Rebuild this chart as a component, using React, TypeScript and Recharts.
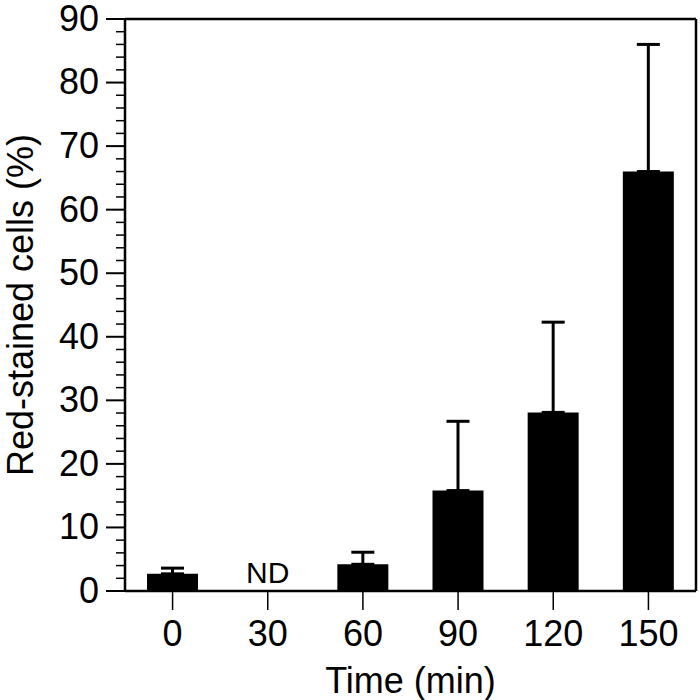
import { BarChart, Bar, XAxis, YAxis, ErrorBar, ReferenceDot } from "recharts";

// Time points (min) and % red-stained cells, upward error only
const times = ["0", "30", "60", "90", "120", "150"];
const redStained = [2.7, null, 4.2, 15.8, 28.1, 66.0];
const errorUp = [0.9, null, 1.9, 10.9, 14.2, 20.0];
const notDetected = ["30"];

const yLabels = [0, 10, 20, 30, 40, 50, 60, 70, 80, 90];
const minorStep = 2;

const font = '"Liberation Sans", Arial, Helvetica, sans-serif';

const data = times.map((t, i) => ({
  time: t,
  value: redStained[i],
  err: errorUp[i] == null ? null : [0, errorUp[i]],
}));

const yTicks: number[] = [];
yLabels.forEach((v, i) => {
  yTicks.push(v);
  const next = yLabels[i + 1];
  if (next != null) {
    for (let m = v + minorStep; m < next; m += minorStep) yTicks.push(m);
  }
});

function YTick({ x, y, payload }: any) {
  const major = yLabels.includes(payload.value);
  return (
    <g>
      <line
        x1={x - (major ? 19 : 9)}
        x2={x}
        y1={y}
        y2={y}
        stroke="#000"
        strokeWidth={major ? 2 : 1.5}
      />
      {major && (
        <text
          x={x - 26}
          y={y}
          dy="0.33em"
          textAnchor="end"
          fontSize={36}
          fontFamily={font}
          fill="#000"
        >
          {payload.value}
        </text>
      )}
    </g>
  );
}

function XTick({ x, y, payload }: any) {
  return (
    <text
      x={x}
      y={y + 36}
      textAnchor="middle"
      fontSize={36}
      fontFamily={font}
      fill="#000"
    >
      {payload.value}
    </text>
  );
}

function YTitle(props: any) {
  const vb = props.viewBox;
  const cx = vb.x + 33;
  const cy = vb.y + vb.height / 2;
  return (
    <text
      x={cx}
      y={cy}
      transform={`rotate(-90, ${cx}, ${cy})`}
      textAnchor="middle"
      fontSize={36}
      fontFamily={font}
      fill="#000"
    >
      Red-stained cells (%)
    </text>
  );
}

function XTitle(props: any) {
  const vb = props.viewBox;
  return (
    <text
      x={vb.x + vb.width / 2}
      y={vb.y + 102}
      textAnchor="middle"
      fontSize={36}
      fontFamily={font}
      fill="#000"
    >
      Time (min)
    </text>
  );
}

export default function App() {
  return (
    <div style={{ position: "absolute", left: 0, top: 0, background: "#fff" }}>
      <BarChart
        width={700}
        height={700}
        data={data}
        margin={{ top: 0, right: 0, bottom: 0, left: 0 }}
      >
        <XAxis
          dataKey="time"
          height={109}
          tickSize={19}
          tickMargin={0}
          tickLine={{ stroke: "#000", strokeWidth: 1.5 }}
          axisLine={{ stroke: "#000", strokeWidth: 2.5 }}
          tick={<XTick />}
          interval={0}
          label={{ content: XTitle }}
        />
        <XAxis
          xAxisId="top"
          orientation="top"
          dataKey="time"
          height={19}
          tick={false}
          tickLine={false}
          axisLine={{ stroke: "#000", strokeWidth: 2.5 }}
        />
        <YAxis
          domain={[0, 90]}
          ticks={yTicks}
          interval={0}
          width={125}
          tickSize={0}
          tickMargin={0}
          tickLine={false}
          axisLine={{ stroke: "#000", strokeWidth: 2.5 }}
          tick={<YTick />}
          label={{ content: YTitle }}
        />
        <YAxis
          yAxisId="right"
          orientation="right"
          domain={[0, 90]}
          width={4}
          tick={false}
          tickLine={false}
          axisLine={{ stroke: "#000", strokeWidth: 2.5 }}
        />
        <Bar dataKey="value" fill="#000" barSize={51} isAnimationActive={false}>
          <ErrorBar
            dataKey="err"
            direction="y"
            width={11.5}
            strokeWidth={3}
            stroke="#000"
            isAnimationActive={false}
          />
        </Bar>
        {notDetected.map((t) => (
          <ReferenceDot
            key={t}
            x={t}
            y={0}
            r={0}
            fill="none"
            stroke="none"
            ifOverflow="visible"
            label={{
              value: "ND",
              position: "top",
              offset: 8,
              fontSize: 30,
              fontFamily: font,
              fill: "#000",
            }}
          />
        ))}
      </BarChart>
    </div>
  );
}
